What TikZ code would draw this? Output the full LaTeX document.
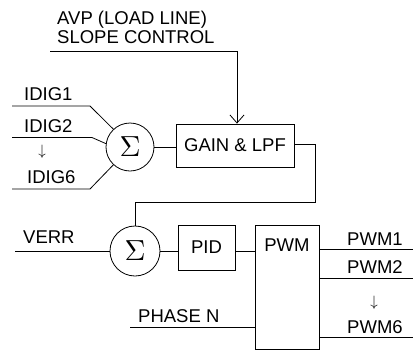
\documentclass[tikz,border=0pt]{standalone}
\usepackage{fontspec}
\setmainfont{Liberation Sans}
\usetikzlibrary{arrows.meta}
\begin{document}
\begin{tikzpicture}[x=1pt,y=-1pt,
  wire/.style={draw=black,line width=0.8pt},
  lbl/.style={inner sep=0pt,anchor=base west,font=\fontsize{18.5}{20}\selectfont},
  blk/.style={draw=black,line width=0.8pt,inner sep=0pt},
  sumnode/.style={draw=black,line width=0.8pt,circle,inner sep=0pt}]
\useasboundingbox[fill=white] (0,0) rectangle (413,354);
% text labels
\node[lbl] (avp1) at (57,24) {AVP (LOAD LINE)};
\node[lbl] (avp2) at (57,43) {SLOPE CONTROL};
\node[lbl] (idig1) at (24,100) {IDIG1};
\node[lbl] (idig2) at (24,132) {IDIG2};
\node[inner sep=0pt] (darr1) at (42,152) {\scalebox{1.5}{$\downarrow$}};
\node[lbl] (idig6) at (27,183) {IDIG6};
\node[lbl] (verr) at (23,243) {VERR};
\node[lbl] (phase) at (138,322) {PHASE N};
\node[lbl] (pwm1t) at (347,245) {PWM1};
\node[lbl] (pwm2t) at (347,273) {PWM2};
\node[inner sep=0pt] (darr2) at (374,303) {\scalebox{1.5}{$\downarrow$}};
\node[lbl] (pwm6t) at (347,333) {PWM6};
% blocks
\node[sumnode,minimum size=48pt] (s1) at (130,147) {\scalebox{2.9}{$\Sigma$}};
\node[sumnode,minimum size=50pt] (s2) at (135,251) {\scalebox{2.9}{$\Sigma$}};
\node[blk,minimum width=118pt,minimum height=43pt,font=\fontsize{18.5}{20}\selectfont] (gain) at (235,145.5) {GAIN \& LPF};
\node[blk,minimum width=57pt,minimum height=45pt,font=\fontsize{18.5}{20}\selectfont] (pid) at (206.5,247.5) {PID};
\node[blk,minimum width=64pt,minimum height=124pt] (pwm) at (287,287) {};
\node[inner sep=0pt,font=\fontsize{18.5}{20}\selectfont] (pwmlbl) at (287,245) {PWM};
% free-end coordinates
\coordinate (a0) at (50,51);
\coordinate (a1) at (237,51);
\coordinate (i1) at (12,106);
\coordinate (i1b) at (90,106);
\coordinate (i2) at (12,137.5);
\coordinate (i2b) at (92,137.5);
\coordinate (i6) at (12,189);
\coordinate (i6b) at (90,189);
\coordinate (v0) at (15,251);
\coordinate (p0) at (130,327);
\coordinate (f1) at (315,144);
\coordinate (f2) at (315,202);
\coordinate (o1) at (413,249);
\coordinate (o2) at (413,278);
\coordinate (o6) at (413,337);
% connectors
\draw[wire,-{Straight Barb[length=8pt,width=14pt]}] (a0) -- (a1) -- (a1 |- gain.north);
\draw[wire] (i1) -- (i1b) -- (s1.133);
\draw[wire] (i2) -- (i2b) -- (s1.172);
\draw[wire] (i6) -- (i6b) -- (s1.227);
\draw[wire] (s1.east) -- (s1.east -| gain.west);
\draw[wire] (gain.east |- f1) -- (f1) -- (f2) -- (f2 -| s2.north) -- (s2.north);
\draw[wire] (v0) -- (s2.west);
\draw[wire] (s2.east) -- (s2.east -| pid.west);
\draw[wire] (pid.east |- s2.east) -- (pwm.west |- s2.east);
\draw[wire] (p0) -- (p0 -| pwm.west);
\draw[wire] (pwm.east |- o1) -- (o1);
\draw[wire] (pwm.east |- o2) -- (o2);
\draw[wire] (pwm.east |- o6) -- (o6);
\end{tikzpicture}
\end{document}
